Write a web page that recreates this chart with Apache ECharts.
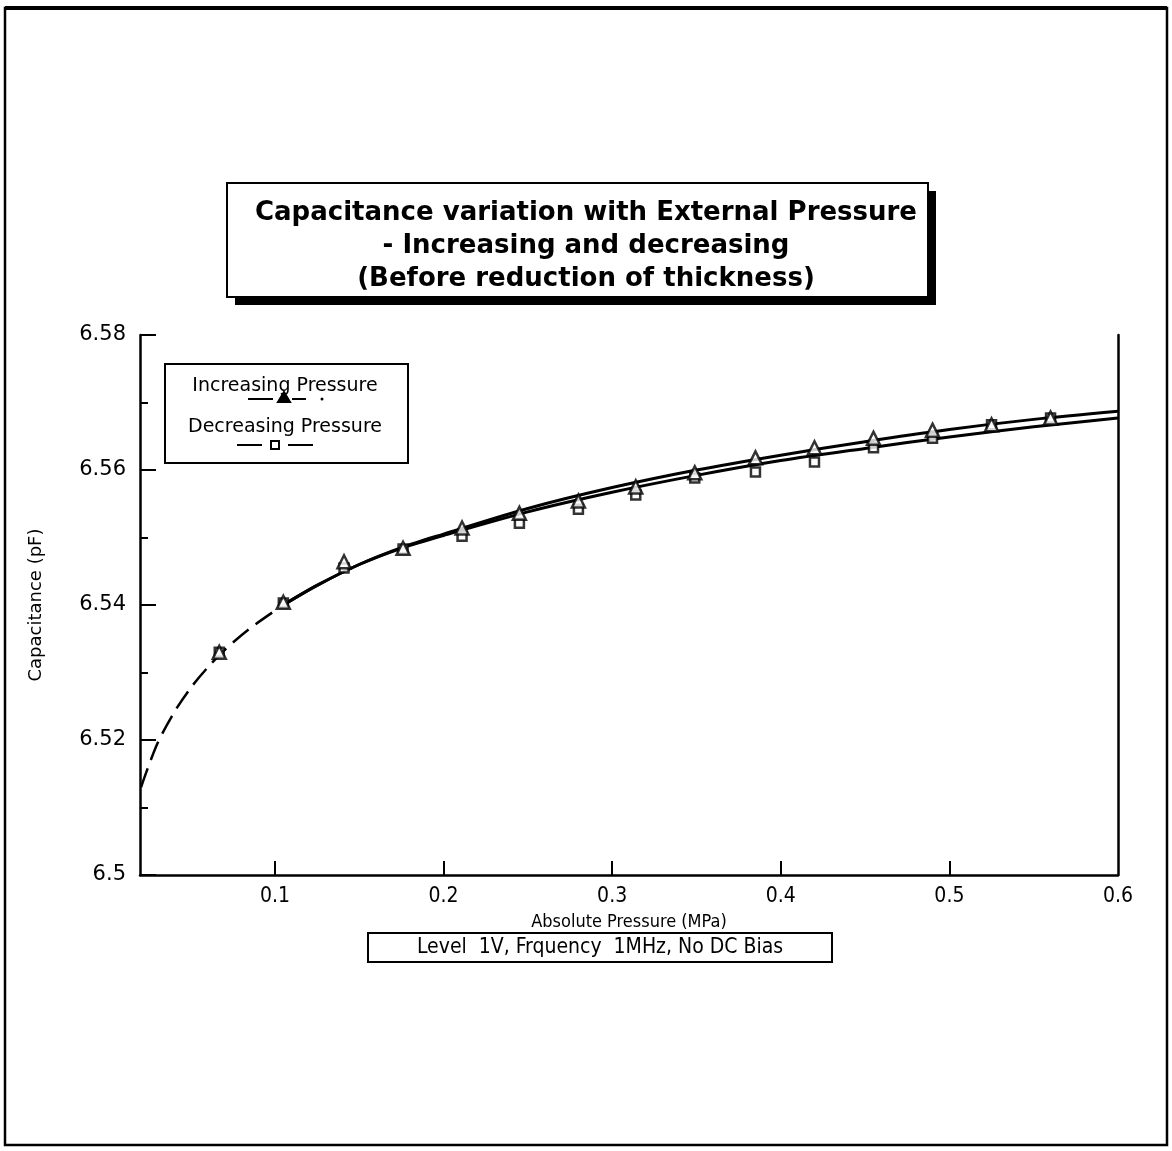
<!DOCTYPE html>
<html>
<head>
<meta charset="utf-8">
<title>Capacitance variation with External Pressure</title>
<script src="https://cdn.jsdelivr.net/npm/echarts@6/dist/echarts.min.js"></script>
<style>
  html, body { margin: 0; padding: 0; background: #fff; }
  #chart { width: 1172px; height: 1151px; }
</style>
</head>
<body>
<div id="chart"></div>
<script>
// measured pressure steps (MPa)
var pressure = [0.067, 0.105, 0.141, 0.176, 0.211, 0.245, 0.28, 0.314, 0.349, 0.385, 0.42, 0.455, 0.49, 0.525, 0.56];
// capacitance (pF), increasing / decreasing pressure
var capIncreasing = [6.5330, 6.5404, 6.5464, 6.5484, 6.5514, 6.5536, 6.5554, 6.5575, 6.5596, 6.5618, 6.5633, 6.5647, 6.5659, 6.5667, 6.5677];
var capDecreasing = [6.5330, 6.5403, 6.5455, 6.5483, 6.5502, 6.5521, 6.5542, 6.5563, 6.5588, 6.5597, 6.5612, 6.5633, 6.5647, 6.5667, 6.5677];
// fitted curves (solid part)
var fitX = [0.105, 0.125, 0.15, 0.175, 0.2, 0.25, 0.3, 0.35, 0.4, 0.45, 0.5, 0.55, 0.6];
var fitIncreasing = [6.5400, 6.5429, 6.5460, 6.5485, 6.5505, 6.5543, 6.5574, 6.5600, 6.5622, 6.5642, 6.5660, 6.5675, 6.5687];
var fitDecreasing = [6.5400, 6.5429, 6.5460, 6.5484, 6.5503, 6.5538, 6.5567, 6.5592, 6.5614, 6.5632, 6.5649, 6.5664, 6.5677];
// dashed extrapolation towards low pressure
var extX = [0.0206, 0.03, 0.04, 0.05, 0.06, 0.07, 0.085, 0.105];
var extY = [6.5130, 6.5193, 6.5240, 6.5277, 6.5307, 6.5333, 6.5365, 6.5400];
// axis tick labels
var xTicks = [0.1, 0.2, 0.3, 0.4, 0.5, 0.6];

function pairs(xs, ys) {
  return xs.map(function (x, i) { return [x, ys[i]]; });
}

var font = 'DejaVu Sans';
var fontNarrow = 'DejaVu Sans Condensed, DejaVu Sans';

var option = {
  backgroundColor: '#fff',
  animation: false,
  grid: { left: 140, right: 54, top: 335, bottom: 276 },
  xAxis: {
    type: 'value',
    min: 0.02,
    max: 0.6,
    name: 'Absolute Pressure (MPa)',
    nameLocation: 'middle',
    nameGap: 38,
    nameTextStyle: { color: '#000', fontSize: 18, fontFamily: fontNarrow },
    axisLine: { lineStyle: { color: '#000', width: 2.5 } },
    axisTick: { inside: true, length: 14, customValues: [0.1, 0.2, 0.3, 0.4, 0.5], lineStyle: { color: '#000', width: 2 } },
    axisLabel: {
      customValues: xTicks,
      color: '#000',
      fontSize: 21,
      fontFamily: fontNarrow,
      margin: 11,
      formatter: function (v) { return v.toFixed(1); }
    },
    splitLine: { show: false }
  },
  yAxis: [
    {
      type: 'value',
      min: 6.5,
      max: 6.58,
      interval: 0.02,
      name: 'Capacitance (pF)',
      nameLocation: 'middle',
      nameGap: 95,
      nameTextStyle: { color: '#000', fontSize: 18, fontFamily: font },
      axisLine: { show: true, lineStyle: { color: '#000', width: 2.5 } },
      axisTick: { show: true, inside: true, length: 16, lineStyle: { color: '#000', width: 2 } },
      minorTick: { show: true, splitNumber: 2, length: 8, lineStyle: { color: '#000', width: 2 } },
      axisLabel: { color: '#000', fontSize: 21, fontFamily: font, margin: 14 },
      splitLine: { show: false }
    },
    {
      type: 'value',
      min: 6.5,
      max: 6.58,
      position: 'right',
      axisLine: { show: true, lineStyle: { color: '#000', width: 2.5 } },
      axisTick: { show: false },
      axisLabel: { show: false },
      splitLine: { show: false }
    }
  ],
  series: [
    {
      name: 'fit increasing',
      type: 'line',
      data: pairs(fitX, fitIncreasing),
      smooth: 0.3,
      showSymbol: false,
      lineStyle: { color: '#000', width: 3 },
      z: 2
    },
    {
      name: 'fit decreasing',
      type: 'line',
      data: pairs(fitX, fitDecreasing),
      smooth: 0.3,
      showSymbol: false,
      lineStyle: { color: '#000', width: 3 },
      z: 2
    },
    {
      name: 'extrapolation',
      type: 'line',
      data: pairs(extX, extY),
      smooth: 0.3,
      showSymbol: false,
      lineStyle: { color: '#000', width: 2.5, type: [20, 9] },
      z: 2
    },
    {
      name: 'Decreasing Pressure',
      type: 'scatter',
      data: pairs(pressure, capDecreasing),
      symbol: 'rect',
      symbolSize: 9,
      itemStyle: { color: '#fff', borderColor: '#000', borderWidth: 2.5 },
      z: 3
    },
    {
      name: 'Increasing Pressure',
      type: 'scatter',
      data: pairs(pressure, capIncreasing),
      symbol: 'triangle',
      symbolSize: 13,
      itemStyle: { color: '#fff', borderColor: '#000', borderWidth: 2.5 },
      z: 4
    }
  ],
  graphic: [
    // page frame
    { type: 'rect', shape: { x: 5, y: 8, width: 1162, height: 1137 }, style: { fill: 'none', stroke: '#000', lineWidth: 2.5 } },
    { type: 'line', shape: { x1: 5, y1: 8, x2: 1167, y2: 8 }, style: { stroke: '#000', lineWidth: 4 } },
    // title box with shadow
    { type: 'rect', shape: { x: 235, y: 191, width: 701, height: 114 }, style: { fill: '#000' } },
    { type: 'rect', shape: { x: 227, y: 183, width: 701, height: 114 }, style: { fill: '#fff', stroke: '#000', lineWidth: 2 } },
    {
      type: 'text', x: 586, y: 197,
      style: {
        text: 'Capacitance variation with External Pressure\n- Increasing and decreasing\n(Before reduction of thickness)',
        font: 'bold 26px ' + font, fill: '#000', textAlign: 'center', textVerticalAlign: 'top', lineHeight: 33
      }
    },
    // legend
    { type: 'rect', shape: { x: 165, y: 364, width: 243, height: 99 }, style: { fill: '#fff', stroke: '#000', lineWidth: 2 }, z: 10 },
    { type: 'text', x: 285, y: 386, style: { text: 'Increasing Pressure', font: '19px ' + font, fill: '#000', textAlign: 'center', textVerticalAlign: 'middle' }, z: 11 },
    { type: 'line', shape: { x1: 248, y1: 399, x2: 273, y2: 399 }, style: { stroke: '#000', lineWidth: 2 }, z: 11 },
    { type: 'polygon', shape: { points: [[284, 392], [290, 402], [278, 402]] }, style: { fill: '#000', stroke: '#000', lineWidth: 2 }, z: 11 },
    { type: 'line', shape: { x1: 292, y1: 399, x2: 306, y2: 399 }, style: { stroke: '#000', lineWidth: 2 }, z: 11 },
    { type: 'circle', shape: { cx: 322, cy: 399, r: 1.5 }, style: { fill: '#000' }, z: 11 },
    { type: 'text', x: 285, y: 427, style: { text: 'Decreasing Pressure', font: '19px ' + font, fill: '#000', textAlign: 'center', textVerticalAlign: 'middle' }, z: 11 },
    { type: 'line', shape: { x1: 237, y1: 445, x2: 262, y2: 445 }, style: { stroke: '#000', lineWidth: 2 }, z: 11 },
    { type: 'rect', shape: { x: 271, y: 441, width: 8, height: 8 }, style: { fill: '#fff', stroke: '#000', lineWidth: 2 }, z: 11 },
    { type: 'line', shape: { x1: 288, y1: 445, x2: 313, y2: 445 }, style: { stroke: '#000', lineWidth: 2 }, z: 11 },
    // measurement conditions
    { type: 'rect', shape: { x: 368, y: 933, width: 464, height: 29 }, style: { fill: '#fff', stroke: '#000', lineWidth: 2 } },
    { type: 'text', x: 600, y: 948, style: { text: 'Level  1V, Frquency  1MHz, No DC Bias', font: '21px ' + fontNarrow, fill: '#000', textAlign: 'center', textVerticalAlign: 'middle' } }
  ]
};

var myChart = echarts.init(document.getElementById('chart'));
myChart.setOption(option);
</script>
</body>
</html>
